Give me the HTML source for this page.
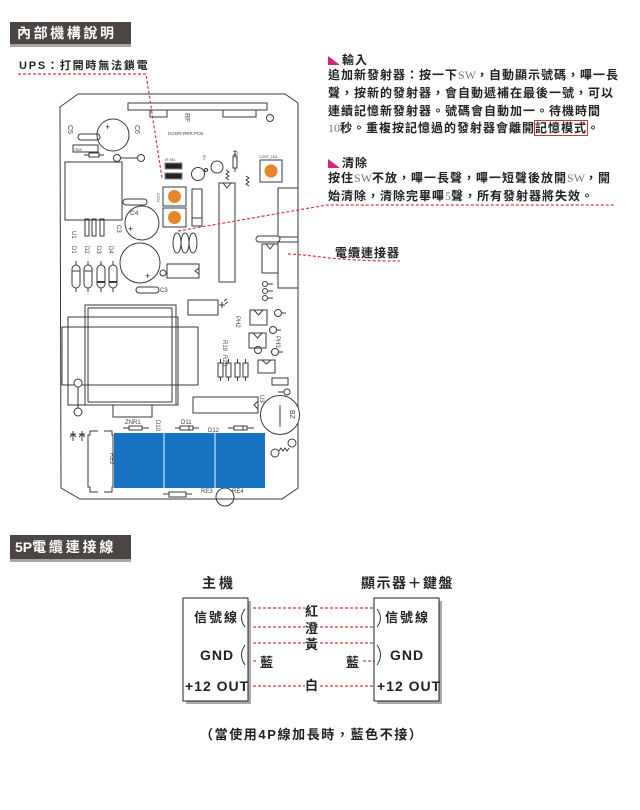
<!DOCTYPE html>
<html><head><meta charset="utf-8">
<style>
html,body{margin:0;padding:0;background:#fff;}
body{width:640px;height:810px;position:relative;overflow:hidden;font-family:"Liberation Sans","Noto Sans CJK TC",sans-serif;color:#222;}
.t{position:absolute;white-space:nowrap;font-weight:bold;line-height:16px;}
.b{font-size:12px;letter-spacing:1px;}
.s{font-family:"Liberation Serif",serif;font-weight:normal;color:#777;letter-spacing:0;}
.hdr{position:absolute;left:10px;width:121px;background:#4b4543;border-bottom:3px solid #a8a5a3;color:#fff;font-weight:bold;font-size:14px;letter-spacing:2.6px;line-height:22px;padding-left:7px;box-sizing:border-box;}
.tri{position:absolute;width:0;height:0;border-left:0 solid transparent;border-bottom:9px solid #d6257f;border-right:12px solid transparent;}
.d{font-size:13px;letter-spacing:2px;}
.g{font-size:14px;letter-spacing:1px;}
</style></head><body>

<svg width="640" height="810" style="position:absolute;left:0;top:0" xmlns="http://www.w3.org/2000/svg">
<g fill="none" stroke="#3a3a3a" stroke-width="1">
<polygon points="60,107 78,94 285,94 298,103 298,488 282,499 80,499 61,488" fill="#fff"/>
<rect x="128" y="103" width="139" height="7"/>
<rect x="150" y="110" width="17" height="7"/>
<rect x="223" y="110" width="33" height="7"/>
<circle cx="270" cy="118" r="3.5"/>
<circle cx="113" cy="135" r="16"/>
<rect x="78" y="134" width="22" height="6" rx="3"/>
<rect x="73" y="145" width="25" height="7"/>
<line x1="84" y1="155" x2="104" y2="155"/><rect x="89" y="153" width="10" height="4" fill="#fff"/>
<circle cx="117" cy="158" r="3.5"/><circle cx="141" cy="158" r="3.5"/><line x1="121" y1="158" x2="137" y2="158"/>
<rect x="65" y="162" width="57" height="58"/>
<rect x="165" y="163" width="17" height="6" fill="#222" stroke="#888"/>
<rect x="165" y="173" width="17" height="6" fill="#222" stroke="#888"/>
<rect x="163" y="187" width="23" height="19"/>
<rect x="163" y="208" width="23" height="19"/>
<rect x="192" y="189" width="10" height="37"/><line x1="192" y1="218" x2="202" y2="218"/>
<circle cx="198" cy="174" r="6.5"/><circle cx="217" cy="167" r="6"/>
<circle cx="206" cy="170" r="1.5"/>
<line x1="235" y1="150" x2="235" y2="172"/><rect x="233" y="156" width="4" height="12" fill="#fff"/>
<path d="M226,170 l3,2 -3,2 3,2 -3,2 3,2"/>
<path d="M246,176 l3,2 -3,2 3,2 -3,2 3,2"/>
<rect x="219" y="183" width="16" height="99"/><path d="M223,183 L227,188 L231,183"/>
<rect x="260" y="160" width="22" height="22"/>
<rect x="278" y="188" width="20" height="100"/><line x1="278" y1="237" x2="298" y2="237"/><line x1="278" y1="242" x2="298" y2="242"/>
<rect x="256" y="236" width="24" height="6" rx="3" fill="#fff"/>
<rect x="262" y="244" width="16" height="29"/><path d="M266,244 L270,249 L274,244"/>
<circle cx="265" cy="284" r="2.5"/><circle cx="265" cy="291" r="2.5"/><circle cx="265" cy="298" r="2.5"/>
<line x1="268" y1="284" x2="273" y2="284"/><line x1="268" y1="291" x2="273" y2="291"/><line x1="268" y1="298" x2="273" y2="298"/>
<rect x="123" y="199" width="24" height="6" rx="3"/>
<circle cx="142" cy="223" r="17"/>
<rect x="85" y="219" width="4" height="17"/><rect x="92" y="219" width="4" height="17"/><rect x="100" y="219" width="4" height="17"/>
<rect x="72" y="265" width="8" height="23" rx="4"/><rect x="84" y="265" width="8" height="23" rx="4"/>
<rect x="97" y="265" width="8" height="23" rx="4"/><rect x="109" y="265" width="8" height="23" rx="4"/>
<line x1="72" y1="271" x2="80" y2="271"/><line x1="84" y1="271" x2="92" y2="271"/><line x1="97" y1="282" x2="105" y2="282" stroke-width="2"/><line x1="109" y1="282" x2="117" y2="282" stroke-width="2"/>
<line x1="76" y1="261" x2="76" y2="265"/><line x1="88" y1="261" x2="88" y2="265"/><line x1="101" y1="261" x2="101" y2="265"/><line x1="113" y1="261" x2="113" y2="265"/>
<line x1="76" y1="288" x2="76" y2="292"/><line x1="88" y1="288" x2="88" y2="292"/><line x1="101" y1="288" x2="101" y2="292"/><line x1="113" y1="288" x2="113" y2="292"/>
<circle cx="140" cy="263" r="20"/>
<circle cx="163" cy="273" r="3"/>
<rect x="167" y="264" width="32" height="14"/><path d="M199,268 L195,271 L199,274"/>
<rect x="136" y="287" width="23" height="6" rx="3"/>
<ellipse cx="177" cy="243" rx="4" ry="10"/><ellipse cx="185" cy="243" rx="4" ry="10"/><ellipse cx="193" cy="243" rx="4" ry="10"/>
<rect x="188" y="300" width="30" height="15"/>
<path d="M219,305 h6 M222,302 v6 M224,301 l3,-2 M225,304 l3,-2"/>
<rect x="62" y="327" width="136" height="58"/>
<rect x="68" y="317" width="110" height="88"/>
<rect x="85" y="305" width="91" height="100"/>
<rect x="88" y="308" width="84" height="94"/>
<rect x="113" y="405" width="39" height="12" fill="#fff"/>
<circle cx="78" cy="383" r="4" fill="#fff"/><circle cx="78" cy="412" r="4"/><line x1="78" y1="387" x2="78" y2="408"/>
<rect x="218" y="363" width="5" height="14"/><rect x="226" y="363" width="5" height="14"/><rect x="235" y="363" width="5" height="14"/><rect x="243" y="363" width="5" height="14"/>
<path d="M220.5,359v4 M228.5,359v4 M237.5,359v4 M245.5,359v4 M220.5,377v4 M228.5,377v4 M237.5,377v4 M245.5,377v4"/>
<rect x="250" y="310" width="17" height="15"/><path d="M254,310 L258.5,315 L263,310"/>
<rect x="249" y="333" width="17" height="15"/><path d="M253,333 L257.5,338 L262,333"/>
<rect x="258" y="360" width="17" height="13"/><path d="M262,360 L266.5,364 L271,360"/>
<circle cx="278" cy="313" r="3.5"/><line x1="281" y1="313" x2="286" y2="313"/>
<circle cx="273" cy="330" r="3.5"/><line x1="276" y1="330" x2="281" y2="330"/>
<circle cx="275" cy="352" r="3.5"/><line x1="278" y1="352" x2="283" y2="352"/>
<circle cx="258" cy="350" r="3.5"/>
<rect x="272" y="378" width="16" height="7"/>
<circle cx="287" cy="392" r="3"/><line x1="278" y1="392" x2="284" y2="392"/>
<rect x="193" y="397" width="65" height="16"/><path d="M258,401 L254,405 L258,409"/>
<circle cx="280" cy="415" r="19.5" fill="#fff"/><line x1="280" y1="405" x2="280" y2="427"/>
<line x1="123" y1="428" x2="149" y2="428"/><rect x="129" y="426" width="13" height="4" fill="#fff"/>
<line x1="175" y1="428" x2="199" y2="428"/><rect x="180" y="426" width="13" height="4" fill="#fff"/><line x1="189" y1="426" x2="189" y2="430"/>
<line x1="228" y1="428" x2="254" y2="428"/><rect x="234" y="426" width="13" height="4" fill="#fff"/><line x1="243" y1="426" x2="243" y2="430"/>
<path d="M98,431 H90 V435 H88 V487 H90 V492 H98"/>
<path d="M104,431 H112 V435 H113 V487 H112 V492 H104"/>
<path d="M73,431 v10 M70,434 h6 M70,437 l3,-3 3,3 M82,431 v10 M79,434 h6 M79,437 l3,-3 3,3"/>
<line x1="163" y1="494" x2="192" y2="494"/><rect x="169" y="492" width="17" height="5" fill="#fff"/>
<circle cx="225" cy="497" r="9"/>
<circle cx="292" cy="443" r="4"/><circle cx="275" cy="453" r="4"/>
<path d="M279,451 l2,-3 2,3 2,-3 2,3 2,-3"/>
</g>
<rect x="114" y="433" width="151" height="55" fill="#1872c2"/>
<line x1="164" y1="433" x2="164" y2="488" stroke="#a9cdea" stroke-width="1.5"/>
<line x1="215" y1="433" x2="215" y2="488" stroke="#a9cdea" stroke-width="1.5"/>
<circle cx="174.5" cy="196.5" r="6.5" fill="#e8842b"/>
<circle cx="174.5" cy="217.5" r="6.5" fill="#e8842b"/>
<circle cx="271" cy="171" r="6.5" fill="#e8842b"/>
<g font-family="Liberation Sans,sans-serif" fill="#444" font-size="6">
<text x="168" y="135" font-size="4.5">DOOR-RRR.PCB</text>
<text x="105" y="130" font-size="9" fill="#222">+</text>
<text x="128" y="232" font-size="9" fill="#222">+</text>
<text x="145" y="279" font-size="9" fill="#222">+</text>
<text x="74" y="151" font-size="3.5">7805</text>
<text x="165" y="161" font-size="3.5">IR SEL</text>
<text x="259" y="158" font-size="3.5">CONT_LEA</text>
<text x="130" y="215" font-size="6.5">C4</text>
<text x="125" y="424" font-size="6">ZNR1</text>
<text x="181" y="424" font-size="6">D11</text>
<text x="208" y="432" font-size="6">D12</text>
<text x="201" y="493" font-size="6">RE3</text>
<text x="232" y="493" font-size="6">RE4</text>
<text transform="translate(185,113) rotate(90)" font-size="7">RF</text>
<text transform="translate(135,125) rotate(90)" font-size="7">C6</text>
<text transform="translate(68,125) rotate(90)" font-size="7">C5</text>
<text transform="translate(117,225) rotate(90)" font-size="6">C3</text>
<text x="160" y="292" font-size="6">C3</text>
<text transform="translate(72,231) rotate(90)" font-size="6">U1</text>
<text transform="translate(72,246) rotate(90)" font-size="6">D1</text>
<text transform="translate(85,246) rotate(90)" font-size="6">D2</text>
<text transform="translate(97,246) rotate(90)" font-size="6">D3</text>
<text transform="translate(109,246) rotate(90)" font-size="6">D4</text>
<text transform="translate(233,151) rotate(90)" font-size="6">R2</text>
<text transform="translate(203,155) rotate(90)" font-size="4">5V</text>
<text transform="translate(157,193) rotate(90)" font-size="4">CON</text>
<text transform="translate(236,316) rotate(90)" font-size="6">PH2</text>
<text transform="translate(276,336) rotate(90)" font-size="6">PH3</text>
<text transform="translate(223,340) rotate(90)" font-size="6">R19</text>
<text transform="translate(223,355) rotate(90)" font-size="6">R20</text>
<text transform="translate(260,395) rotate(90)" font-size="6">U3</text>
<text transform="translate(290,410) rotate(90)" font-size="7">BZ</text>
<text transform="translate(156,420) rotate(90)" font-size="6">D10</text>
<text transform="translate(110,453) rotate(90)" font-size="6">RE2</text>
</g>
<g fill="none" stroke="#d13a40" stroke-width="1.2" stroke-dasharray="3,2">
<path d="M18,74 H146 L162,178"/>
<path d="M178,231 L327,205 H615"/>
<path d="M288,254 C318,255 330,261 400,261"/>
<path d="M248,608 H305 M320,608 H374"/>
<path d="M248,627 H305 M320,627 H374"/>
<path d="M248,643 H305 M320,643 H374"/>
<path d="M248,661 H258 M363,661 H374"/>
<path d="M248,686 H305 M320,686 H374"/>
</g>
<rect x="186" y="601" width="65" height="103" fill="#aaa"/>
<rect x="183" y="598" width="65" height="103" fill="#fff" stroke="#222"/>
<rect x="377" y="601" width="65" height="103" fill="#aaa"/>
<rect x="374" y="598" width="65" height="103" fill="#fff" stroke="#222"/>
<g fill="none" stroke="#333" stroke-width="1">
<path d="M245,609 Q238,618 245,627"/>
<path d="M245,645 Q238,655 245,665"/>
<path d="M377,609 Q384,618 377,627"/>
<path d="M377,645 Q384,655 377,665"/>
</g>
</svg>

<div class="hdr" style="top:22px;height:25px;">內部機構說明</div>
<div class="t" style="left:19px;top:58px;font-size:11px;letter-spacing:1.8px;">UPS：打開時無法鎖電</div>

<div class="tri" style="left:328px;top:56px;"></div>
<div class="t b" style="left:342px;top:52px;">輸入</div>
<div class="t b" style="left:328px;top:67px;">追加新發射器：按一下<span class="s">SW</span>，自動顯示號碼，嗶一長</div>
<div class="t b" style="left:328px;top:85px;">聲，按新的發射器，會自動遞補在最後一號，可以</div>
<div class="t b" style="left:328px;top:103px;">連續記憶新發射器。號碼會自動加一。待機時間</div>
<div class="t b" style="left:328px;top:120px;"><span class="s">10</span>秒。重複按記憶過的發射器會離開<span style="outline:1px solid #c8383c;outline-offset:0px;">記憶模式</span>。</div>

<div class="tri" style="left:328px;top:159px;"></div>
<div class="t b" style="left:342px;top:155px;">清除</div>
<div class="t b" style="left:328px;top:170px;">按住<span class="s">SW</span>不放，嗶一長聲，嗶一短聲後放開<span class="s">SW</span>，開</div>
<div class="t b" style="left:328px;top:188px;">始清除，清除完畢嗶<span class="s">5</span>聲，所有發射器將失效。</div>

<div class="t b" style="left:335px;top:245px;">電纜連接器</div>

<div class="hdr" style="top:535px;height:27px;font-size:14px;letter-spacing:2.8px;padding-left:5px;line-height:24px;"><span style="letter-spacing:0">5P</span>電纜連接線圖</div>

<div class="t" style="left:202px;top:575px;font-size:14px;letter-spacing:3px;">主機</div>
<div class="t" style="left:361px;top:575px;font-size:14px;letter-spacing:1.5px;">顯示器＋鍵盤</div>

<div class="t d" style="left:194px;top:610px;">信號線</div>
<div class="t g" style="left:200px;top:647px;">GND</div>
<div class="t g" style="left:185px;top:678px;">+12 OUT</div>

<div class="t d" style="left:385px;top:610px;">信號線</div>
<div class="t g" style="left:390px;top:647px;">GND</div>
<div class="t g" style="left:377px;top:678px;">+12 OUT</div>

<div class="t d" style="left:305px;top:604px;">紅</div>
<div class="t d" style="left:305px;top:621px;">澄</div>
<div class="t d" style="left:305px;top:637px;">黃</div>
<div class="t d" style="left:260px;top:655px;">藍</div>
<div class="t d" style="left:346px;top:655px;">藍</div>
<div class="t d" style="left:305px;top:678px;">白</div>

<div class="t" style="left:200px;top:727px;font-size:13px;letter-spacing:1.6px;">（當使用4P線加長時，藍色不接）</div>
</body></html>
